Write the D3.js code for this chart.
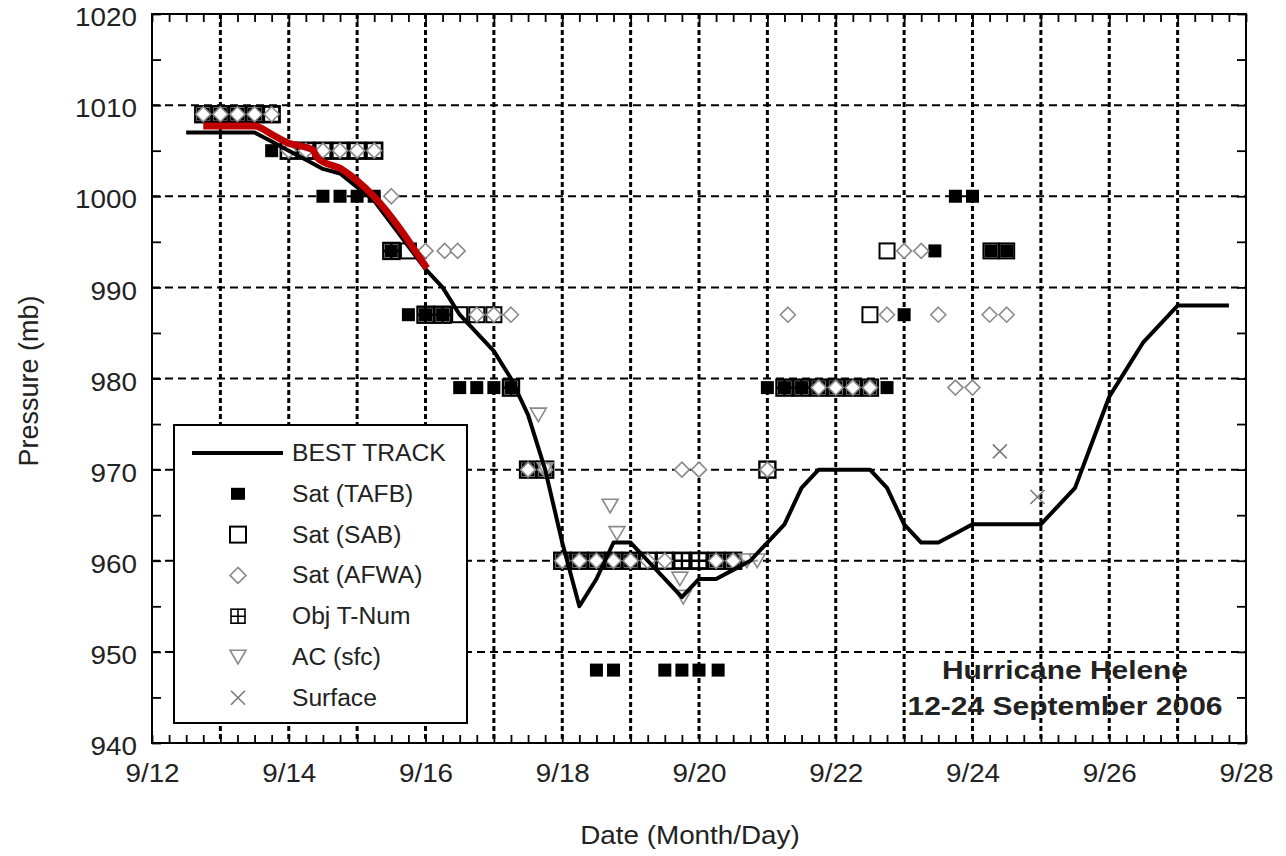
<!DOCTYPE html>
<html>
<head>
<meta charset="utf-8">
<script src="https://cdn.jsdelivr.net/npm/d3@7"></script>
<style>
  body { margin: 0; background: #fff; }
  svg { display: block; }
  text { font-family: "Liberation Sans", Arial, sans-serif; fill: #222; }
</style>
</head>
<body>
<script>
// Hurricane Helene pressure chart, 12-24 Sep 2006.
// Days are September day numbers (12.5 = 9/12 12Z).

var trackDays = [12.5, 12.75, 13, 13.25, 13.5, 13.75, 14, 14.25, 14.5, 14.75, 15, 15.25, 15.5, 15.75,
  16, 16.25, 16.5, 16.75, 17, 17.25, 17.5, 17.75, 18, 18.25, 18.5, 18.75, 19, 19.25, 19.5, 19.75,
  20, 20.25, 20.5, 20.75, 21, 21.25, 21.5, 21.75, 22, 22.25, 22.5, 22.75, 23, 23.25, 23.5, 23.75,
  24, 24.25, 24.5, 24.75, 25, 25.25, 25.5, 25.75, 26, 26.25, 26.5, 26.75, 27, 27.25, 27.5, 27.75];
var trackPressure = [1007, 1007, 1007, 1007, 1007, 1006, 1005, 1004, 1003, 1002.5, 1001, 999.5, 997, 994.5,
  992, 990, 987, 985, 983, 980, 976, 970, 962, 955, 958, 962, 962, 960, 958, 956,
  958, 958, 959, 960, 962, 964, 968, 970, 970, 970, 970, 968, 964, 962, 962, 963,
  964, 964, 964, 964, 964, 966, 968, 973, 978, 981, 984, 986, 988, 988, 988, 988];

// red overlay line (early part of the track)
var redDays = [12.75, 13.5, 13.75, 13.97, 14.35, 14.42, 14.79, 15.23, 16.02];
var redPressure = [1007.7, 1007.7, 1006.8, 1005.9, 1005.1, 1004.2, 1002.9, 1000.1, 992.1];

var satTAFB = [[12.75, 1009], [13, 1009], [13.25, 1009], [13.5, 1009],
  [13.75, 1005], [14.5, 1000], [14.75, 1000], [15, 1000], [15.25, 1000],
  [15.5, 994], [15.75, 987], [16, 987], [16.25, 987],
  [16.5, 979], [16.75, 979], [17, 979], [17.25, 979], [17.5, 970], [17.75, 970],
  [18, 960], [18.25, 960], [18.5, 960], [18.75, 960], [19, 960], [20.25, 960], [20.5, 960],
  [18.5, 948], [18.75, 948], [19.5, 948], [19.75, 948], [20, 948], [20.28, 948],
  [21, 979], [21.25, 979], [21.5, 979], [21.75, 979], [22, 979], [22.25, 979], [22.5, 979], [22.75, 979],
  [23, 987], [23.45, 994], [23.75, 1000], [24, 1000], [24.27, 994], [24.5, 994]];

var satSAB = [[13.75, 1009], [14, 1005], [14.25, 1005], [14.5, 1005], [14.75, 1005], [15, 1005], [15.25, 1005],
  [15.75, 994], [16.5, 987], [16.75, 987], [17, 987],
  [19.75, 960], [20, 960], [22.5, 987], [22.75, 994], [24.27, 994], [24.5, 994]];

var satAFWA = [[12.75, 1009], [13, 1009], [13.25, 1009], [13.5, 1009], [13.75, 1009],
  [14, 1005], [14.25, 1005], [14.5, 1005], [14.75, 1005], [15, 1005], [15.25, 1005],
  [15.5, 1000], [16, 994], [16.28, 994], [16.47, 994],
  [16.75, 987], [17, 987], [17.25, 987], [17.5, 970], [17.75, 970],
  [18, 960], [18.25, 960], [18.5, 960], [18.75, 960], [19, 960], [19.25, 960], [19.5, 960],
  [20.25, 960], [20.5, 960], [19.75, 970], [20, 970], [21, 970],
  [21.3, 987], [21.75, 979], [22, 979], [22.25, 979], [22.5, 979],
  [22.75, 987], [23, 994], [23.25, 994], [23.5, 987], [23.75, 979], [24, 979],
  [24.25, 987], [24.5, 987]];

var objTNum = [[12.75, 1009], [13, 1009], [13.25, 1009], [13.5, 1009], [13.75, 1009],
  [14, 1005], [14.25, 1005], [14.5, 1005], [14.75, 1005], [15, 1005], [15.25, 1005],
  [15.5, 994], [16, 987], [16.25, 987], [17.25, 979], [17.5, 970], [17.75, 970],
  [18, 960], [18.25, 960], [18.5, 960], [18.75, 960], [19, 960], [19.25, 960], [19.5, 960],
  [19.75, 960], [20, 960], [20.25, 960], [20.5, 960], [21, 970],
  [21.25, 979], [21.5, 979], [21.75, 979], [22, 979], [22.25, 979], [22.5, 979]];

var acSfc = [[17.65, 976], [17.75, 970], [18.7, 966], [18.8, 963], [19.72, 958], [19.77, 956],
  [20.7, 960], [20.85, 960]];

var surface = [[24.4, 972], [24.95, 967]];

var dayTicks = [12, 14, 16, 18, 20, 22, 24, 26, 28];
var pressureTicks = [940, 950, 960, 970, 980, 990, 1000, 1010, 1020];

var legendLabels = ['BEST TRACK', 'Sat (TAFB)', 'Sat (SAB)', 'Sat (AFWA)', 'Obj T-Num', 'AC (sfc)', 'Surface'];
var stormLabel = ['Hurricane Helene', '12-24 September 2006'];

var W = 1286, H = 856;
var svg = d3.select('body').append('svg').attr('width', W).attr('height', H);

var x = d3.scaleLinear().domain([12, 28]).range([152, 1246]);
var y = d3.scaleLinear().domain([940, 1020]).range([743, 14]);

var STRETCH = 1.07;
function stretch(sel) {
  sel.each(function() {
    var len = this.getComputedTextLength();
    d3.select(this).attr('textLength', len * STRETCH).attr('lengthAdjust', 'spacingAndGlyphs');
  });
}

// grid
var grid = svg.append('g');
grid.selectAll('line.v').data(d3.range(13, 28)).enter().append('line')
  .attr('x1', function(d) { return x(d); }).attr('x2', function(d) { return x(d); })
  .attr('y1', y(1020)).attr('y2', y(940))
  .attr('stroke', '#000').attr('stroke-width', 3).attr('stroke-dasharray', '5,3');
grid.selectAll('line.h').data(d3.range(950, 1020, 10)).enter().append('line')
  .attr('y1', function(d) { return y(d); }).attr('y2', function(d) { return y(d); })
  .attr('x1', x(12)).attr('x2', x(28))
  .attr('stroke', '#000').attr('stroke-width', 2).attr('stroke-dasharray', '8,5');

// minor ticks on all four sides, pointing inward
var tickDays = d3.range(12, 28.001, 0.25);
var tickP = d3.range(940, 1020.001, 5);
svg.append('g').attr('transform', 'translate(0,' + y(940) + ')')
  .call(d3.axisTop(x).tickValues(tickDays).tickSize(8).tickFormat(''));
svg.append('g').attr('transform', 'translate(0,' + y(1020) + ')')
  .call(d3.axisBottom(x).tickValues(tickDays).tickSize(8).tickFormat(''));
svg.append('g').attr('transform', 'translate(' + x(12) + ',0)')
  .call(d3.axisRight(y).tickValues(tickP).tickSize(9).tickFormat(''));
svg.append('g').attr('transform', 'translate(' + x(28) + ',0)')
  .call(d3.axisLeft(y).tickValues(tickP).tickSize(9).tickFormat(''));
svg.selectAll('.domain').remove();
svg.selectAll('.tick line').attr('stroke', '#000').attr('stroke-width', 1.8);

// tick labels
var xl = svg.append('g').attr('transform', 'translate(0,' + y(940) + ')')
  .call(d3.axisBottom(x).tickValues(dayTicks).tickSize(0).tickPadding(21)
    .tickFormat(function(d) { return '9/' + d; }));
var yl = svg.append('g').attr('transform', 'translate(' + x(12) + ',0)')
  .call(d3.axisLeft(y).tickValues(pressureTicks).tickSize(0).tickPadding(15).tickFormat(d3.format('d')));
[xl, yl].forEach(function(g) {
  g.select('.domain').remove();
  g.selectAll('text').attr('font-size', 26).attr('fill', '#222')
    .style('font-family', '"Liberation Sans", Arial, sans-serif');
});
yl.selectAll('text').attr('dy', '0.45em');
stretch(xl.selectAll('text'));
stretch(yl.selectAll('text'));

// frame
svg.append('rect').attr('x', x(12)).attr('y', y(1020))
  .attr('width', x(28) - x(12)).attr('height', y(940) - y(1020))
  .attr('fill', 'none').attr('stroke', '#000').attr('stroke-width', 2);

// axis titles
stretch(svg.append('text').attr('x', 690).attr('y', 844).attr('text-anchor', 'middle')
  .attr('font-size', 26).text('Date (Month/Day)'));
svg.append('text').attr('transform', 'translate(38,381) rotate(-90)').attr('text-anchor', 'middle')
  .attr('font-size', 27).text('Pressure (mb)');

// marker shapes
var plot = svg.append('g');
function px(d) { return x(d[0]); }
function py(d) { return y(d[1]); }

function drawSAB(g, data, s) {
  g.selectAll(null).data(data).enter().append('rect')
    .attr('x', function(d) { return px(d) - s / 2; }).attr('y', function(d) { return py(d) - s / 2; })
    .attr('width', s).attr('height', s)
    .attr('fill', '#fff').attr('stroke', '#000').attr('stroke-width', 2);
}
function drawTNum(g, data, s) {
  var m = g.selectAll(null).data(data).enter().append('g')
    .attr('transform', function(d) { return 'translate(' + px(d) + ',' + py(d) + ')'; });
  m.append('rect').attr('x', -s / 2).attr('y', -s / 2).attr('width', s).attr('height', s)
    .attr('fill', 'none').attr('stroke', '#000').attr('stroke-width', 2.4);
  m.append('path').attr('d', 'M0,' + (-s / 2) + 'V' + (s / 2) + 'M' + (-s / 2) + ',0H' + (s / 2))
    .attr('stroke', '#000').attr('stroke-width', 2.4);
}
function drawTAFB(g, data, s) {
  g.selectAll(null).data(data).enter().append('rect')
    .attr('x', function(d) { return px(d) - s / 2; }).attr('y', function(d) { return py(d) - s / 2; })
    .attr('width', s).attr('height', s).attr('fill', '#000');
}
function diamondPath(r) { return 'M0,' + (-r) + 'L' + r + ',0L0,' + r + 'L' + (-r) + ',0Z'; }
function drawAFWA(g, data, r) {
  g.selectAll(null).data(data).enter().append('path')
    .attr('transform', function(d) { return 'translate(' + px(d) + ',' + py(d) + ')'; })
    .attr('d', diamondPath(r))
    .attr('fill', '#fff').attr('stroke', '#8a8a8a').attr('stroke-width', 1.6);
}
function triPath(r) { return 'M' + (-r) + ',' + (-r * 0.85) + 'L' + r + ',' + (-r * 0.85) + 'L0,' + (r * 0.85) + 'Z'; }
function drawAC(g, data, r) {
  g.selectAll(null).data(data).enter().append('path')
    .attr('transform', function(d) { return 'translate(' + px(d) + ',' + py(d) + ')'; })
    .attr('d', triPath(r))
    .attr('fill', '#fff').attr('fill-opacity', 0.6).attr('stroke', '#8a8a8a').attr('stroke-width', 1.6);
}
function crossPath(r) { return 'M' + (-r) + ',' + (-r) + 'L' + r + ',' + r + 'M' + r + ',' + (-r) + 'L' + (-r) + ',' + r; }
function drawSurface(g, data, r) {
  g.selectAll(null).data(data).enter().append('path')
    .attr('transform', function(d) { return 'translate(' + px(d) + ',' + py(d) + ')'; })
    .attr('d', crossPath(r))
    .attr('fill', 'none').attr('stroke', '#7a7a7a').attr('stroke-width', 1.6);
}

drawSAB(plot, satSAB, 15);
drawTAFB(plot, satTAFB, 13);
drawTNum(plot, objTNum, 16);
drawAFWA(plot, satAFWA, 7.5);
drawAC(plot, acSfc, 8);
drawSurface(plot, surface, 7);

// best track + red overlay
var track = trackDays.map(function(d, i) { return [d, trackPressure[i]]; });
var red = redDays.map(function(d, i) { return [d, redPressure[i]]; });
var line = d3.line().x(px).y(py);
plot.append('path').datum(track).attr('d', line)
  .attr('fill', 'none').attr('stroke', '#000').attr('stroke-width', 4).attr('stroke-linejoin', 'round');
plot.append('path').datum(red).attr('d', line.curve(d3.curveMonotoneX))
  .attr('fill', 'none').attr('stroke', '#c00000').attr('stroke-width', 7)
  .attr('stroke-linejoin', 'round');

// legend
var lg = svg.append('g');
lg.append('rect').attr('x', 174).attr('y', 425).attr('width', 293).attr('height', 298)
  .attr('fill', '#fff').attr('stroke', '#000').attr('stroke-width', 2);
var rowY = function(i) { return 453 + i * 40.8; };
var sx = 238;
lg.append('line').attr('x1', 192).attr('x2', 283).attr('y1', rowY(0)).attr('y2', rowY(0))
  .attr('stroke', '#000').attr('stroke-width', 4);
function at(i) { return 'translate(' + sx + ',' + rowY(i) + ')'; }
lg.append('rect').attr('transform', at(1)).attr('x', -7).attr('y', -6).attr('width', 14).attr('height', 12).attr('fill', '#000');
lg.append('rect').attr('transform', at(2)).attr('x', -8).attr('y', -8).attr('width', 16).attr('height', 16)
  .attr('fill', 'none').attr('stroke', '#000').attr('stroke-width', 2);
lg.append('path').attr('transform', at(3)).attr('d', diamondPath(8))
  .attr('fill', '#fff').attr('stroke', '#8a8a8a').attr('stroke-width', 1.6);
lg.append('rect').attr('transform', at(4)).attr('x', -7).attr('y', -7).attr('width', 14).attr('height', 14)
  .attr('fill', 'none').attr('stroke', '#000').attr('stroke-width', 1.6);
lg.append('path').attr('transform', at(4)).attr('d', 'M0,-7V7M-7,0H7').attr('stroke', '#000').attr('stroke-width', 1.6);
lg.append('path').attr('transform', at(5)).attr('d', triPath(8))
  .attr('fill', 'none').attr('stroke', '#8a8a8a').attr('stroke-width', 1.6);
lg.append('path').attr('transform', at(6)).attr('d', crossPath(7))
  .attr('fill', 'none').attr('stroke', '#7a7a7a').attr('stroke-width', 1.6);
var lt = lg.selectAll('text').data(legendLabels).enter().append('text')
  .attr('x', 292).attr('y', function(d, i) { return rowY(i) + 8; })
  .attr('font-size', 23).text(function(d) { return d; });
stretch(lt);

// storm label
var stormWidths = [246, 315];
svg.append('g').selectAll('text').data(stormLabel).enter().append('text')
  .attr('x', 1065).attr('y', function(d, i) { return 679 + i * 36; })
  .attr('text-anchor', 'middle').attr('font-size', 26).attr('font-weight', 'bold')
  .attr('textLength', function(d, i) { return stormWidths[i]; })
  .attr('lengthAdjust', 'spacingAndGlyphs')
  .text(function(d) { return d; });
</script>
</body>
</html>
